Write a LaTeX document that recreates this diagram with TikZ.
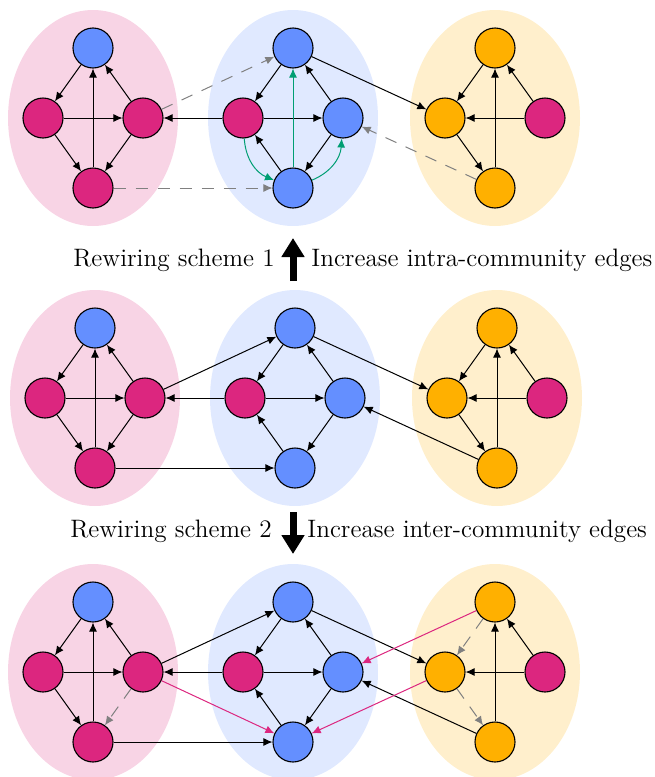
\documentclass[tikz,border=0pt]{standalone}
\usetikzlibrary{arrows.meta}
\definecolor{cblue}{HTML}{648FFF}
\definecolor{cmag}{HTML}{DC267F}
\definecolor{cgold}{HTML}{FFB000}
\definecolor{cgreen}{HTML}{009E73}
\definecolor{cgray}{HTML}{808080}
\tikzset{
 vtx/.style={circle, draw=black, line width=0.55pt, minimum size=20pt, inner sep=0pt},
 bv/.style={vtx, fill=cblue}, mv/.style={vtx, fill=cmag}, gv/.style={vtx, fill=cgold},
 ed/.style={-{Latex[length=4.5pt,width=4pt]}, line width=0.5pt},
 grn/.style={ed, cgreen},
 dsh/.style={ed, cgray, dash pattern=on 6pt off 5pt},
 mge/.style={ed, cmag},
 big/.style={-{Triangle[length=9.5pt,width=11pt]}, line width=3.5pt},
 lbl/.style={font=\fontsize{12.6}{15}\selectfont, inner sep=0pt},
 blob/.style={x radius=42.5pt, y radius=54pt}
}
\newcommand\panelnodes[3]{%
 \fill[cmag!20] ({#2+93},#3) ellipse [blob];
 \fill[cblue!20] ({#2+293},#3) ellipse [blob];
 \fill[cgold!20] ({#2+495},#3) ellipse [blob];
 \node[bv] (#1Lt) at ({#2+93},{#3-70}) {};
 \node[mv] (#1Ll) at ({#2+43},#3) {};
 \node[mv] (#1Lr) at ({#2+143},#3) {};
 \node[mv] (#1Lb) at ({#2+93},{#3+70}) {};
 \node[bv] (#1Mt) at ({#2+293},{#3-70}) {};
 \node[mv] (#1Ml) at ({#2+243},#3) {};
 \node[bv] (#1Mr) at ({#2+343},#3) {};
 \node[bv] (#1Mb) at ({#2+293},{#3+70}) {};
 \node[gv] (#1Rt) at ({#2+495},{#3-70}) {};
 \node[gv] (#1Rl) at ({#2+445},#3) {};
 \node[mv] (#1Rr) at ({#2+545},#3) {};
 \node[gv] (#1Rb) at ({#2+495},{#3+70}) {};
}
\newcommand\commonedges[1]{%
 \draw[ed] (#1Lt) -- (#1Ll);
 \draw[ed] (#1Ll) -- (#1Lr);
 \draw[ed] (#1Ll) -- (#1Lb);
 \draw[ed] (#1Lb) -- (#1Lt);
 \draw[ed] (#1Lr) -- (#1Lt);
 \draw[ed] (#1Mt) -- (#1Ml);
 \draw[ed] (#1Ml) -- (#1Mr);
 \draw[ed] (#1Mr) -- (#1Mt);
 \draw[ed] (#1Mr) -- (#1Mb);
 \draw[ed] (#1Mb) -- (#1Ml);
 \draw[ed] (#1Rr) -- (#1Rl);
 \draw[ed] (#1Rr) -- (#1Rt);
 \draw[ed] (#1Rb) -- (#1Rt);
 \draw[ed] (#1Ml) -- (#1Lr);
 \draw[ed] (#1Mt) -- (#1Rl);
}
\begin{document}
\begin{tikzpicture}[x=0.5pt, y=-0.5pt]
\clip (0,0) rectangle (654,777);
\useasboundingbox (0,0) rectangle (654,777);
% panels
\panelnodes{a}{0}{118}
\panelnodes{b}{2}{398}
\panelnodes{c}{0}{672}
% top panel
\commonedges{a}
\draw[ed] (aLr) -- (aLb);
\draw[ed] (aRt) -- (aRl);
\draw[ed] (aRl) -- (aRb);
\draw[grn] (aMb) -- (aMt);
\draw[grn] (aMl) to[bend right=32] (aMb);
\draw[grn] (aMb) to[bend right=32] (aMr);
\draw[dsh] (aLr) -- (aMt);
\draw[dsh] (aLb) -- (aMb);
\draw[dsh] (aRb) -- (aMr);
% middle panel
\commonedges{b}
\draw[ed] (bLr) -- (bLb);
\draw[ed] (bRt) -- (bRl);
\draw[ed] (bRl) -- (bRb);
\draw[ed] (bLr) -- (bMt);
\draw[ed] (bLb) -- (bMb);
\draw[ed] (bRb) -- (bMr);
% bottom panel
\commonedges{c}
\draw[dsh] (cLr) -- (cLb);
\draw[dsh] (cRt) -- (cRl);
\draw[dsh] (cRl) -- (cRb);
\draw[ed] (cLr) -- (cMt);
\draw[ed] (cLb) -- (cMb);
\draw[ed] (cRb) -- (cMr);
\draw[mge] (cLr) -- (cMb);
\draw[mge] (cRt) -- (cMr);
\draw[mge] (cRl) -- (cMb);
% labels and big arrows
\node[lbl, anchor=base east] (s1) at (275,266) {Rewiring scheme 1};
\node[lbl, anchor=base west] (i1) at (311,266) {Increase intra-community edges};
\coordinate (u0) at (293,281);
\coordinate (u1) at (293,238);
\draw[big] (u0) -- (u1);
\node[lbl, anchor=base east] (s2) at (272,537) {Rewiring scheme 2};
\node[lbl, anchor=base west] (i2) at (307,537) {Increase inter-community edges};
\coordinate (d0) at (293,512);
\coordinate (d1) at (293,554);
\draw[big] (d0) -- (d1);
\end{tikzpicture}
\end{document}
